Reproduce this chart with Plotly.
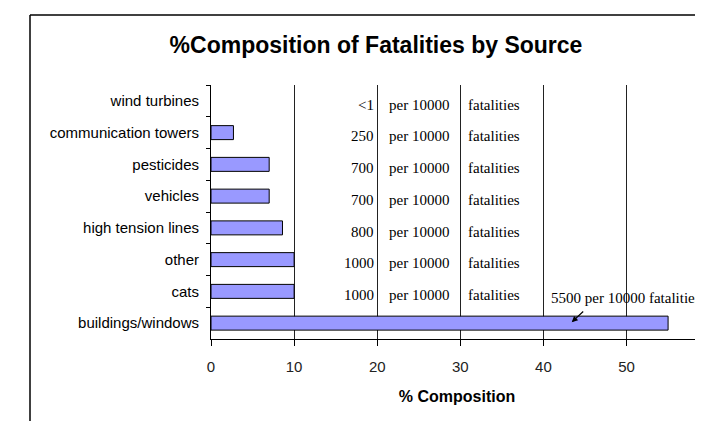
import plotly.graph_objects as go

# ---- data ----
categories = ["wind turbines", "communication towers", "pesticides", "vehicles",
              "high tension lines", "other", "cats", "buildings/windows"]
pct_composition = [0.0, 2.7, 7.0, 7.0, 8.6, 10.0, 10.0, 55.0]
per10000_labels = ["<1", "250", "700", "700", "800", "1000", "1000"]
big_label = "5500 per 10000 fatalities"
x_ticks = [0, 10, 20, 30, 40, 50]

SANS = "Liberation Sans, Arial, sans-serif"
SERIF = "Liberation Serif, Times New Roman, serif"

# page body has an 8px margin, so the figure is drawn 8px in from the top-left
W, H = 695, 413
PL, PR, PT, PB = 203, 695, 77, 331  # plot area in figure pixels
pw, ph = PR - PL, PB - PT

fig = go.Figure()
fig.add_trace(go.Bar(
    x=pct_composition, y=categories, orientation="h",
    marker=dict(color="#9999FF",
                line=dict(color="black", width=[0 if v == 0 else 1 for v in pct_composition])),
    hoverinfo="skip",
))

annotations = []
for i, lab in enumerate(per10000_labels):
    yy = i + 0.12
    annotations.append(dict(x=19.85, y=yy, xref="x", yref="y", text=lab, showarrow=False,
                            xanchor="right", yanchor="middle",
                            font=dict(family=SERIF, size=15, color="black")))
    annotations.append(dict(x=21.2, y=yy, xref="x", yref="y", text="per 10000", showarrow=False,
                            xanchor="left", yanchor="middle",
                            font=dict(family=SERIF, size=15, color="black")))
    annotations.append(dict(x=30.7, y=yy, xref="x", yref="y", text="fatalities", showarrow=False,
                            xanchor="left", yanchor="middle",
                            font=dict(family=SERIF, size=15, color="black")))

n = len(categories)
annotations.append(dict(x=40.7, y=n - 1 - 0.79, xref="x", yref="y", text=big_label,
                        showarrow=False, xanchor="left", yanchor="middle",
                        font=dict(family=SERIF, size=15, color="black")))
annotations.append(dict(x=43.4, y=n - 1 - 0.03, xref="x", yref="y", text="",
                        showarrow=True, arrowhead=2, arrowsize=1, arrowwidth=1.2,
                        arrowcolor="black", ax=13, ay=-12))
# partially visible 60 tick label at the cut-off right edge
annotations.append(dict(x=(PL + 60 * pw / 59.2 - PL) / pw, y=0, xref="paper", yref="paper",
                        text="60", showarrow=False, xanchor="center", yanchor="top", yshift=-18,
                        font=dict(family=SANS, size=15, color="#222")))

fx = (22 - PL) / pw
fy_top = (PB - 7) / ph
fy_bot = (PB - H) / ph

fig.update_layout(
    width=W, height=H,
    margin=dict(l=PL, r=W - PR, t=PT, b=H - PB),
    paper_bgcolor="white", plot_bgcolor="white",
    showlegend=False,
    bargap=0.56,
    title=dict(text="%Composition of Fatalities by Source", x=368 / W, xref="container",
               xanchor="center", y=1 - 37 / H, yref="container", yanchor="middle",
               font=dict(family=SANS, size=23, color="black", weight="bold")),
    annotations=annotations,
    shapes=[
        dict(type="line", xref="paper", yref="paper",
             x0=fx, x1=fx, y0=fy_bot, y1=fy_top,
             line=dict(color="black", width=1.5)),
        dict(type="line", xref="paper", yref="paper",
             x0=fx, x1=1.05, y0=fy_top, y1=fy_top,
             line=dict(color="black", width=1.5)),
    ],
)

fig.update_xaxes(
    range=[0, 59.2], tickvals=x_ticks, ticks="outside", ticklen=6, tickcolor="black",
    showline=True, linecolor="black", linewidth=1,
    showgrid=True, gridcolor="#222", gridwidth=1, zeroline=False,
    tickfont=dict(family=SANS, size=15, color="#222"), ticklabelstandoff=8,
    title=dict(text="% Composition", font=dict(family=SANS, size=16, color="black", weight="bold"),
               standoff=16),
)
fig.update_yaxes(
    autorange="reversed", type="category", tickson="boundaries",
    ticks="outside", ticklen=4, tickcolor="black",
    showline=True, linecolor="black", linewidth=1, showgrid=False,
    tickfont=dict(family=SANS, size=15, color="black"), ticklabelstandoff=8,
)

fig.write_html("out.html")
